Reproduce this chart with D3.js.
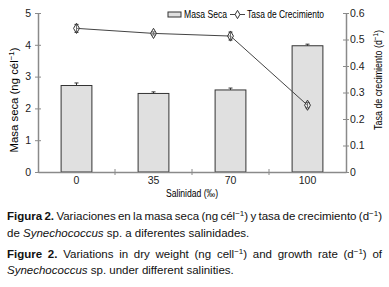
<!DOCTYPE html>
<html>
<head>
<meta charset="utf-8">
<script src="https://cdn.jsdelivr.net/npm/d3@7"></script>
<style>
body { margin: 0; background: #fff; }
svg { display: block; }
text { font-family: "Liberation Sans Narrow", "Liberation Sans", Arial, sans-serif; }
.cap { font-family: "Liberation Sans", Arial, sans-serif; font-size: 11.5px; fill: #111; }
</style>
</head>
<body>
<script>
// chart data
var salinities = ["0", "35", "70", "100"];
var masaSeca = [2.72, 2.47, 2.58, 3.97];
var masaErr = [0.08, 0.05, 0.06, 0.05];
var tasa = [0.542, 0.523, 0.513, 0.252];
var tasaErr = [0.015, 0.006, 0.015, 0.01];
var leftTicks = [0, 1, 2, 3, 4, 5];
var rightTicks = [0, 0.1, 0.2, 0.3, 0.4, 0.5, 0.6];

var width = 389, height = 287;
var mLeft = 38, mRight = 346, mTop = 13, mBottom = 172;

var svg = d3.select("body").append("svg")
    .attr("width", width)
    .attr("height", height);

var x = d3.scaleBand().domain(salinities).range([mLeft, mRight]).paddingInner(0.6).paddingOuter(0.3);
var xb = d3.scaleBand().domain(salinities).range([mLeft, mRight]);
var yL = d3.scaleLinear().domain([0, 5]).range([mBottom, mTop]);
var yR = d3.scaleLinear().domain([0, 0.6]).range([mBottom, mTop]);

var axisCol = "#8a8a8a";

// bars
svg.selectAll(".bar")
    .data(masaSeca)
    .enter().append("rect")
    .attr("x", function (d, i) { return x(salinities[i]); })
    .attr("y", function (d) { return yL(d); })
    .attr("width", x.bandwidth())
    .attr("height", function (d) { return mBottom - yL(d); })
    .style("fill", "#e0e0e0")
    .style("stroke", "#333")
    .style("stroke-width", 1);

// bar error bars
var be = svg.append("g").style("stroke", "#333").style("stroke-width", 1);
masaSeca.forEach(function (d, i) {
    var cx = x(salinities[i]) + x.bandwidth() / 2;
    be.append("line").attr("x1", cx).attr("x2", cx).attr("y1", yL(d)).attr("y2", yL(d + masaErr[i]));
    be.append("line").attr("x1", cx - 2).attr("x2", cx + 2).attr("y1", yL(d + masaErr[i])).attr("y2", yL(d + masaErr[i]));
});

// axes
function styleAxis(g) {
    g.select(".domain").style("stroke", axisCol).style("stroke-width", 1.5);
    g.selectAll(".tick line").style("stroke", axisCol);
    g.selectAll(".tick text").style("font-size", "10.5px").style("fill", "#222");
}

var gL = svg.append("g")
    .attr("transform", "translate(" + mLeft + ",0)")
    .call(d3.axisLeft(yL).tickValues(leftTicks).tickSize(3).tickSizeOuter(0).tickPadding(4).tickFormat(d3.format("d")));
gL.selectAll(".tick line").attr("x2", 3).attr("x1", -3);
styleAxis(gL);

var gR = svg.append("g")
    .attr("transform", "translate(" + mRight + ",0)")
    .call(d3.axisRight(yR).tickValues(rightTicks).tickSize(3).tickSizeOuter(0).tickPadding(1)
        .tickFormat(function (d) { return d === 0 ? "0" : d3.format(".1f")(d); }));
gR.selectAll(".tick line").attr("x1", -3).attr("x2", 3);
styleAxis(gR);

var gX = svg.append("g")
    .attr("transform", "translate(0," + mBottom + ")")
    .call(d3.axisBottom(x).tickSize(0).tickPadding(5));
styleAxis(gX);
// band boundary ticks
salinities.slice(1).forEach(function (s) {
    gX.append("line").attr("x1", xb(s)).attr("x2", xb(s)).attr("y1", -3).attr("y2", 3).style("stroke", axisCol);
});

// growth rate line
var line = d3.line()
    .x(function (d, i) { return x(salinities[i]) + x.bandwidth() / 2; })
    .y(function (d) { return yR(d); });

svg.append("path")
    .datum(tasa)
    .attr("d", line)
    .style("fill", "none")
    .style("stroke", "#444")
    .style("stroke-width", 1);

var le = svg.append("g").style("stroke", "#333").style("stroke-width", 1);
tasa.forEach(function (d, i) {
    var cx = x(salinities[i]) + x.bandwidth() / 2;
    le.append("line").attr("x1", cx).attr("x2", cx).attr("y1", yR(d - tasaErr[i])).attr("y2", yR(d + tasaErr[i]));
    le.append("line").attr("x1", cx - 2).attr("x2", cx + 2).attr("y1", yR(d + tasaErr[i])).attr("y2", yR(d + tasaErr[i]));
    le.append("line").attr("x1", cx - 2).attr("x2", cx + 2).attr("y1", yR(d - tasaErr[i])).attr("y2", yR(d - tasaErr[i]));
});

svg.selectAll(".pt")
    .data(tasa)
    .enter().append("path")
    .attr("d", d3.symbol().type(d3.symbolDiamond).size(30))
    .attr("transform", function (d, i) { return "translate(" + (x(salinities[i]) + x.bandwidth() / 2) + "," + yR(d) + ")"; })
    .style("fill", "#fff")
    .style("fill-opacity", 0.3)
    .style("stroke", "#333");

// legend
var lg = svg.append("g").style("font-size", "10.5px");
lg.append("rect").attr("x", 168).attr("y", 12).attr("width", 13).attr("height", 5)
    .style("fill", "#e0e0e0").style("stroke", "#333");
lg.append("text").attr("x", 184).attr("y", 18).attr("textLength", 43).attr("lengthAdjust", "spacingAndGlyphs").text("Masa Seca");
lg.append("line").attr("x1", 230).attr("x2", 245).attr("y1", 14.5).attr("y2", 14.5).style("stroke", "#444");
lg.append("path").attr("d", d3.symbol().type(d3.symbolDiamond).size(20))
    .attr("transform", "translate(237.5,14.5)").style("fill", "#fff").style("stroke", "#333");
lg.append("text").attr("x", 247).attr("y", 18).attr("textLength", 77).attr("lengthAdjust", "spacingAndGlyphs").text("Tasa de Crecimiento");

// axis titles (condensed to the reference length)
function vTitle(bx, cy, label, target) {
    var g = svg.append("g").attr("transform", "translate(" + bx + "," + cy + ") rotate(-90)");
    var t = g.append("text").attr("text-anchor", "middle").style("font-size", "11.5px");
    t.append("tspan").text(label);
    t.append("tspan").attr("dy", -4).style("font-size", "8px").text("−1");
    t.append("tspan").attr("dy", 4).text(")");
    var len = t.node().getComputedTextLength();
    t.attr("transform", "scale(" + Math.min(1, target / len) + ",1)");
}
vTitle(18, 100, "Masa seca (ng cél", 105);
vTitle(382, 80, "Tasa de crecimiento (d", 100);

svg.append("text")
    .attr("x", (mLeft + mRight) / 2)
    .attr("y", 197)
    .attr("text-anchor", "middle")
    .attr("textLength", 52)
    .attr("lengthAdjust", "spacingAndGlyphs")
    .style("font-size", "10px")
    .text("Salinidad (‰)");

// caption
function capLine(yy, parts, justify) {
    var t = svg.append("text").attr("class", "cap").attr("x", 7).attr("y", yy);
    parts.forEach(function (p) {
        var s = t.append("tspan").text(p.t);
        if (p.b) s.style("font-weight", "bold");
        if (p.i) s.style("font-style", "italic");
        if (p.sup) s.attr("dy", -4).style("font-size", "8px");
        if (p.down) s.attr("dy", 4);
    });
    if (justify) {
        var len = t.node().getComputedTextLength();
        var gaps = parts.map(function (p) { return p.t; }).join("").split(" ").length - 1;
        t.style("word-spacing", ((382 - 7 - len) / gaps) + "px");
    }
    return t;
}
capLine(220, [{ t: "Figura 2.", b: true }, { t: " Variaciones en la masa seca (ng cél" }, { t: "−1", sup: true },
    { t: ") y tasa de crecimiento (d", down: true }, { t: "−1", sup: true }, { t: ")", down: true }], true);
capLine(237, [{ t: "de " }, { t: "Synechococcus", i: true }, { t: " sp. a diferentes salinidades." }]);
capLine(258, [{ t: "Figure 2.", b: true }, { t: " Variations in dry weight (ng cell" }, { t: "−1", sup: true },
    { t: ") and growth rate (d", down: true }, { t: "−1", sup: true }, { t: ") of", down: true }], true);
capLine(274, [{ t: "Synechococcus", i: true }, { t: " sp. under different salinities." }]);
</script>
</body>
</html>
